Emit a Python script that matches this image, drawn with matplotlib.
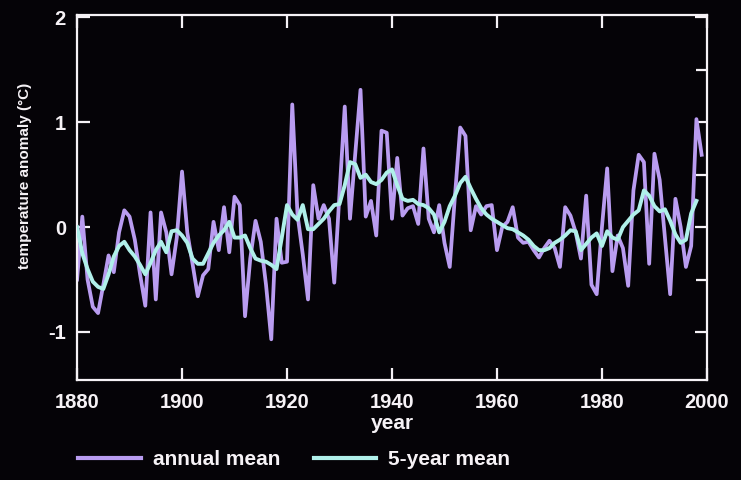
import matplotlib
matplotlib.use("Agg")
import matplotlib.pyplot as plt
from matplotlib.ticker import MultipleLocator
from matplotlib.lines import Line2D
import numpy as np

plt.rcParams['font.family'] = ['Liberation Sans', 'DejaVu Sans']
plt.rcParams['axes.unicode_minus'] = False

# annual mean temperature anomaly (deg C), 1880-1999
years = np.arange(1880, 2000)
annual = [
    -0.50, 0.10, -0.50, -0.76, -0.82, -0.55, -0.27, -0.43, -0.05, 0.16,   # 1880s
    0.10, -0.12, -0.45, -0.75, 0.14, -0.69, 0.14, -0.05, -0.45, -0.10,    # 1890s
    0.53, -0.05, -0.35, -0.66, -0.46, -0.40, 0.05, -0.22, 0.19, -0.24,    # 1900s
    0.29, 0.21, -0.85, -0.30, 0.06, -0.14, -0.55, -1.07, 0.08, -0.34,     # 1910s
    -0.33, 1.17, 0.12, -0.26, -0.69, 0.40, 0.08, 0.21, 0.08, -0.53,       # 1920s
    0.32, 1.15, 0.08, 0.70, 1.31, 0.10, 0.25, -0.08, 0.92, 0.90,          # 1930s
    0.08, 0.66, 0.11, 0.18, 0.20, 0.03, 0.75, 0.08, -0.05, 0.21,          # 1940s
    -0.15, -0.38, 0.30, 0.95, 0.87, -0.03, 0.20, 0.12, 0.20, 0.21,        # 1950s
    -0.22, 0.00, 0.05, 0.19, -0.10, -0.15, -0.14, -0.22, -0.29, -0.20,    # 1960s
    -0.13, -0.20, -0.38, 0.19, 0.11, -0.05, -0.30, 0.30, -0.55, -0.64,    # 1970s
    0.00, 0.56, -0.42, -0.08, -0.20, -0.56, 0.35, 0.69, 0.62, -0.35,      # 1980s
    0.70, 0.45, -0.10, -0.64, 0.27, 0.00, -0.38, -0.18, 1.03, 0.69,       # 1990s
]

# 5-year mean, 1880-1998
years5 = np.arange(1880, 1999)
mean5 = [
    0.00, -0.25, -0.40, -0.52, -0.57, -0.59, -0.45, -0.28, -0.18, -0.14,
    -0.22, -0.28, -0.36, -0.45, -0.34, -0.22, -0.14, -0.24, -0.04, -0.03,
    -0.08, -0.15, -0.30, -0.35, -0.35, -0.25, -0.15, -0.08, -0.03, 0.05,
    -0.10, -0.10, -0.08, -0.20, -0.30, -0.32, -0.33, -0.36, -0.40, -0.10,
    0.21, 0.12, 0.07, 0.21, -0.02, -0.02, 0.03, 0.08, 0.15, 0.21,
    0.22, 0.40, 0.62, 0.60, 0.47, 0.50, 0.43, 0.41, 0.45, 0.52,
    0.55, 0.40, 0.27, 0.25, 0.26, 0.22, 0.21, 0.18, 0.12, -0.05,
    0.05, 0.20, 0.30, 0.42, 0.48, 0.37, 0.27, 0.18, 0.12, 0.08,
    0.05, 0.02, -0.01, -0.02, -0.05, -0.08, -0.12, -0.18, -0.22, -0.22,
    -0.20, -0.15, -0.12, -0.08, -0.03, -0.04, -0.22, -0.16, -0.10, -0.06,
    -0.18, -0.04, -0.10, -0.12, 0.00, 0.06, 0.12, 0.16, 0.35, 0.30,
    0.20, 0.15, 0.17, 0.06, -0.07, -0.15, -0.12, 0.13, 0.25,
]

xticks = [1880, 1900, 1920, 1940, 1960, 1980, 2000]
yticks = [-1, 0, 1, 2]

bg = '#050307'
fg = '#f6f2f6'
purple = '#b99cf0'
cyan = '#b0f0ea'

fig = plt.figure(figsize=(7.41, 4.80), dpi=100, facecolor=bg)
ax = fig.add_axes([0.104, 0.208, 0.850, 0.760], facecolor=bg)

ax.plot(years, annual, color=purple, lw=2.7, zorder=2)
ax.plot(years5, mean5, color=cyan, lw=2.8, zorder=3)

ax.set_xlim(1880, 2000)
ax.set_ylim(-1.46, 2.02)
ax.set_xticks(xticks)
ax.set_yticks(yticks)
ax.yaxis.set_minor_locator(MultipleLocator(0.5))

for s in ax.spines.values():
    s.set_color(fg)
    s.set_linewidth(1.6)

ax.tick_params(which='major', direction='in', length=9, width=1.6, color=fg,
               top=True, right=True, labelcolor=fg, labelsize=14.5)
ax.tick_params(axis='x', which='major', pad=9)
ax.tick_params(axis='y', which='major', pad=8)
ax.tick_params(which='minor', direction='in', length=8, width=1.6, color=fg,
               left=False, right=True)
for lab in ax.get_xticklabels() + ax.get_yticklabels():
    lab.set_fontweight('bold')

ax.set_xlabel('year', color=fg, fontsize=15, fontweight='bold', labelpad=2)
ax.set_ylabel('temperature anomaly (°C)', color=fg, fontsize=11,
              fontweight='bold')
ax.yaxis.set_label_coords(-0.072, 0.56)

handles = [Line2D([], [], color=purple, lw=3),
           Line2D([], [], color=cyan, lw=3)]
leg = fig.legend(handles, ['annual mean', '5-year mean'], loc='center',
                 bbox_to_anchor=(0.397, 0.043), ncol=2, frameon=False,
                 handlelength=3.0, handletextpad=0.58, columnspacing=1.6,
                 prop={'size': 15, 'weight': 'bold'})
for t in leg.get_texts():
    t.set_color(fg)

fig.savefig('out.png', dpi=100, facecolor=bg)
